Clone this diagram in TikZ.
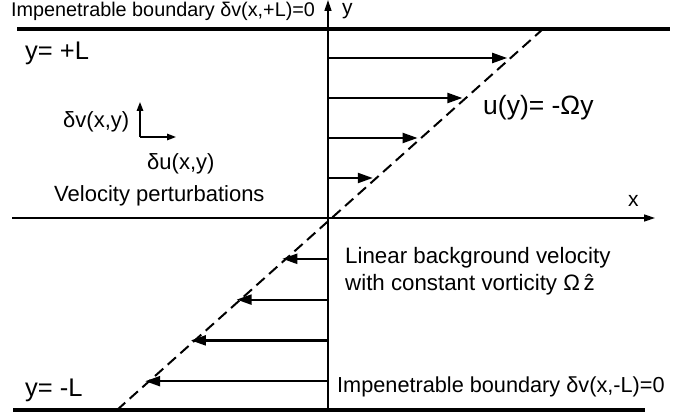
\documentclass[tikz,border=0pt]{standalone}
\usepackage{fontspec}
\setmainfont{Liberation Sans}
\usetikzlibrary{arrows.meta}

\tikzset{
  wall/.style={line width=3.8pt},
  axis/.style={line width=1.5pt},
  flow/.style={line width=2.2pt,-{Triangle[length=15pt,width=10pt]}},
  pert/.style={line width=1.5pt,-{Triangle[length=9pt,width=6.5pt]}},
  shear/.style={line width=2pt,dash pattern=on 11pt off 6pt},
  txt/.style={inner sep=0pt,anchor=base west,font=\fontsize{22}{26}\selectfont},
}

\begin{document}
\begin{tikzpicture}[x=1pt,y=-1pt]
    \useasboundingbox (0,0) rectangle (677,414);

        % walls and axes
        \coordinate (O) at (328,218);
        \coordinate (WT1) at (17,29);   \coordinate (WT2) at (670,29);
        \coordinate (WB1) at (13,410);  \coordinate (WB2) at (645,410);
        \coordinate (XL) at (12,218);   \coordinate (XR) at (655,218);
        \coordinate (YB) at (328,410);  \coordinate (YT) at (328,0);
        \draw[wall] (WT1) -- (WT2);
        \draw[wall] (WB1) -- (WB2);
        \draw[axis,-{Triangle[length=11pt,width=7pt]}] (XL) -- (XR);
        \draw[axis,-{Triangle[length=11pt,width=7pt]}] (YB) -- (YT);

        % background shear profile
        \coordinate (S1) at (117,410);
        \coordinate (S2) at (543,29);
        \draw[shear] (S1) -- (S2);
        \foreach \d in {40,80,120,160}{
            \coordinate (a\d) at (328,218-\d);
            \coordinate (b\d) at (328+1.12*\d,218-\d);
            \draw[flow] (a\d) -- (b\d);
            \coordinate (c\d) at (328,218+1.02*\d);
            \coordinate (e\d) at (328-1.12*1.02*\d,218+1.02*\d);
            \draw[flow] (c\d) -- (e\d);
        }

        % perturbation axes
        \coordinate (P) at (140,137);
        \coordinate (Pu) at (176,137);
        \coordinate (Pv) at (140,102);
        \draw[pert] (P) -- (Pv);
        \draw[pert] (P) -- (Pu);

        % labels
        \node[txt,font=\fontsize{19.8}{24}\selectfont] (topwall) at (11,17) {Impenetrable boundary δv(x,+L)=0};
        \node[txt,font=\fontsize{21.7}{25}\selectfont] (botwall) at (337,392) {Impenetrable boundary δv(x,-L)=0};
        \node[txt,font=\fontsize{25.5}{30}\selectfont] (ytop) at (25,60) {y=\ +L};
        \node[txt,font=\fontsize{25.5}{30}\selectfont] (ybot) at (25,396) {y=\ -L};
        \node[txt,font=\fontsize{21}{24}\selectfont] (ylab) at (342,14.5) {y};
        \node[txt,font=\fontsize{21}{24}\selectfont] (xlab) at (628,207) {x};
        \node[txt] (dv) at (63,128) {δv(x,y)};
        \node[txt] (du) at (147,170) {δu(x,y)};
        \node[txt] (pert) at (54,201) {Velocity perturbations};
        \node[txt,font=\fontsize{26.5}{30}\selectfont] (uy) at (483,115) {u(y)= -Ωy};
        \node[txt,font=\fontsize{22.3}{26}\selectfont] (lin1) at (345,263) {Linear background velocity};
        \node[txt,font=\fontsize{22.3}{26}\selectfont] (lin2) at (345,290) {with constant vorticity Ω\,\^{z}};

    \end{tikzpicture}
\end{document}
